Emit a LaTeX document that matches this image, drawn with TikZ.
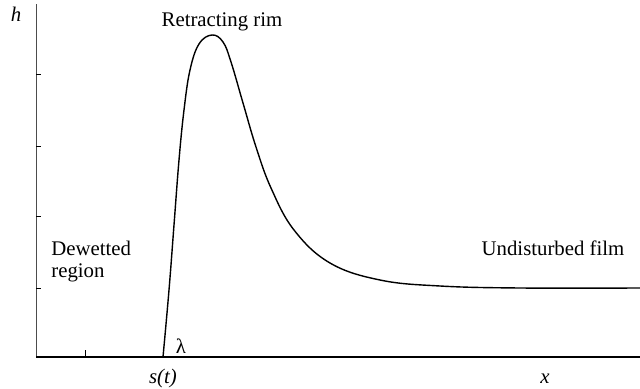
\documentclass[tikz,border=0pt]{standalone}
\usepackage{fontspec}
\setmainfont{Liberation Serif}
\begin{document}
\begin{tikzpicture}[x=0.5pt,y=-0.5pt,
  lbl/.style={inner sep=0pt,font=\fontsize{10.4}{12.5}\selectfont},
  axisv/.style={draw=black!70,line width=0.5pt},
  axish/.style={draw=black,line width=0.9pt},
  tick/.style={draw=black,line width=0.5pt},
  film/.style={draw=black,line width=0.7pt,line join=round}]
\useasboundingbox (0,0) rectangle (640,389);
\coordinate (O) at (36,357);
\coordinate (Ytop) at (36,4);
\coordinate (Xend) at (640,357);
\coordinate (S) at (163,357);
\coordinate (T) at (85,357);
% axes
\draw[axisv] (O) -- (Ytop);
\draw[axish] (O) -- (Xend);
\draw[black,line width=1.4pt] (O) -- (T);
% ticks
\foreach \yy in {75,147,217,288} \draw[tick] (36,\yy) -- (40.5,\yy);
\draw[tick] (T) -- ++(0,-7);
% film profile
\draw[film] (S) plot[smooth,tension=0.65] coordinates {
 (163,357) (169,290) (174,225) (179,160) (184,110) (190,70) (199,44) (212,35)
 (223,42) (231,62) (243,103) (256,147) (271,188) (294,230) (330,263)
 (380,280) (440,286) (520,288) (640,288)};
% labels
\node[lbl,anchor=base] (h) at (16,22) {\itshape h};
\node[lbl,anchor=base] (rim) at (222,27) {Retracting rim};
\node[lbl,anchor=base west,align=left] (dew) at (51,255) {Dewetted};
\node[lbl,anchor=base west] (reg) at (51,277) {region};
\node[lbl,anchor=base] (und) at (553,255) {Undisturbed film};
\node[lbl,anchor=base] (lam) at (181,353) {λ};
\node[lbl,anchor=base] (st) at (163,383) {\itshape s(t)};
\node[lbl,anchor=base] (xl) at (545,383) {\itshape x};
\end{tikzpicture}
\end{document}
